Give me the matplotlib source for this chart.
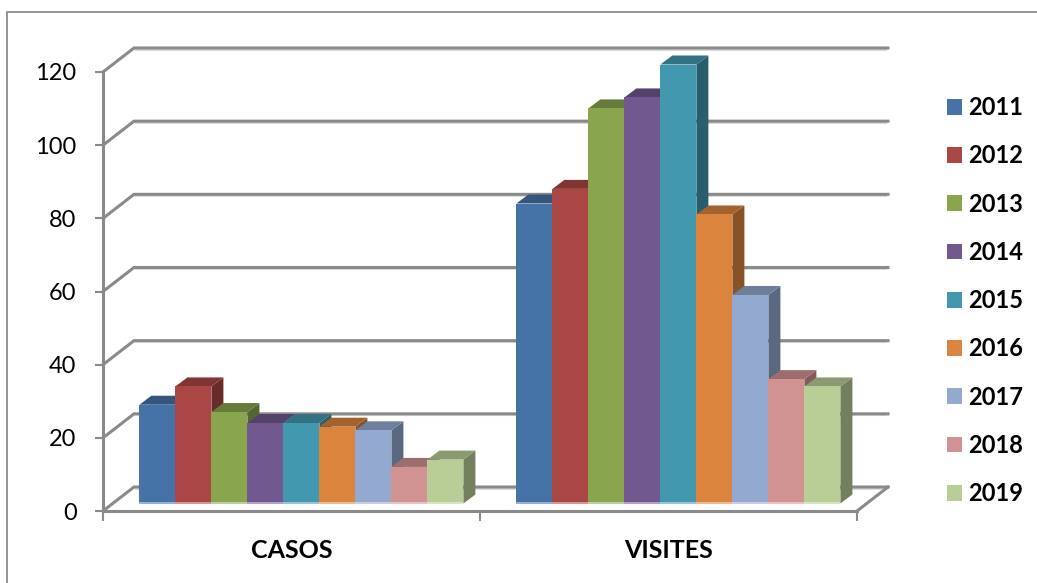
import matplotlib
matplotlib.use("Agg")
import matplotlib.pyplot as plt
from matplotlib.colors import to_rgb
from matplotlib.patches import Patch, Polygon, Rectangle

plt.rcParams['font.family'] = ['Lato', 'DejaVu Sans']

categories = ['CASOS', 'VISITES']
years = ['2011', '2012', '2013', '2014', '2015', '2016', '2017', '2018', '2019']
casos = [27, 32, 25, 22, 22, 21, 20, 10, 12]
visites = [82, 86, 108, 111, 120, 79, 57, 34, 32]
colors = ['#4572A7', '#AA4643', '#89A54E', '#71588F', '#4198AF',
          '#DB843D', '#93A9CF', '#D19392', '#B9CD96']
y_ticks = [0, 20, 40, 60, 80, 100, 120]

W, H = 1037, 583
GREY = '#8A8A8A'


def shade(color, f):
    return tuple(c * f for c in to_rgb(color))


fig = plt.figure(figsize=(W / 100, H / 100), dpi=100)
fig.add_artist(Rectangle((7 / W, -0.1), 1.1, 1 + 0.1 - 12 / H, fill=False,
                         edgecolor='#8C8C8C', linewidth=1.3,
                         transform=fig.transFigure))

# axis box: 103..857 px across, 511..72 px down
ax = fig.add_axes([103 / W, 1 - 511 / H, 754 / W, 439 / H])
ax.set_xlim(0, 2)
ax.set_ylim(0, 120)
ax.patch.set_alpha(0)

px_x = 2 / 754
px_y = 120 / 439

# back wall and floor offset
back_x = 31 * px_x
back_y = 24 * px_y
for v in y_ticks:
    ax.plot([2 + back_x - 2 * px_x, back_x + 2 * px_x], [v + back_y - 1.5 * px_y] * 2,
            color='#DCDCDC', lw=1.5, clip_on=False, zorder=1)
    ax.plot([0, back_x, 2 + back_x], [v, v + back_y, v + back_y],
            color=GREY, lw=2.2, clip_on=False, zorder=1.1, solid_joinstyle='miter')
ax.plot([2, 2 + back_x], [0, back_y], color=GREY, lw=2.2, clip_on=False, zorder=1.1)

# bars
bar_w = 36 * px_x
depth_x = 12 * px_x
depth_y = 9 * px_y
shift_x = 36.4 * px_x
shift_y = 7.5 * px_y

for c, values in enumerate([casos, visites]):
    for i, v in enumerate(values):
        x0 = c + shift_x + i * bar_w
        x1 = x0 + bar_w
        top = shift_y + v
        col = colors[i]
        ax.add_patch(Polygon([(x1, shift_y), (x1 + depth_x, shift_y + depth_y),
                              (x1 + depth_x, top + depth_y), (x1, top)],
                             facecolor=shade(col, 0.62), edgecolor='none',
                             clip_on=False, zorder=2 + i * 0.1))
        ax.add_patch(Polygon([(x0, top), (x0 + depth_x, top + depth_y),
                              (x1 + depth_x, top + depth_y), (x1, top)],
                             facecolor=shade(col, 0.75), edgecolor='none',
                             clip_on=False, zorder=2 + i * 0.1))
        ax.bar(x0, v, width=bar_w, bottom=shift_y, align='edge', color=col,
               zorder=2.05 + i * 0.1, clip_on=False)
        # pale strip where the bar meets the floor
        ax.bar(x0, 1.5 * px_y, width=bar_w, bottom=shift_y, align='edge',
               color='white', alpha=0.45, zorder=2.06 + i * 0.1, clip_on=False)

for s in ['top', 'right']:
    ax.spines[s].set_visible(False)
for s in ['left', 'bottom']:
    ax.spines[s].set_color(GREY)
    ax.spines[s].set_linewidth(2.2)
ax.spines['left'].set_zorder(1.2)
ax.spines['bottom'].set_zorder(1.2)

ax.set_yticks(y_ticks)
ax.tick_params(axis='y', length=6, width=1.5, color=GREY, labelsize=17, pad=13)
ax.set_xticks([0, 1, 2])
ax.set_xticklabels([])
ax.set_xticks([0.5, 1.5], minor=True)
ax.set_xticklabels(categories, minor=True, fontsize=18, fontweight='bold')
ax.tick_params(axis='x', which='major', length=7, width=1.5, color=GREY)
ax.tick_params(axis='x', which='minor', length=0, pad=20)

handles = [Patch(facecolor=col, edgecolor='none') for col in colors]
leg = fig.legend(handles, years, loc='upper left',
                 bbox_to_anchor=(947 / W, 1 - 96 / H), frameon=False,
                 prop={'family': 'Lato', 'weight': 'bold', 'size': 17},
                 handlelength=0.64, handleheight=0.64, handletextpad=0.27,
                 labelspacing=1.07, borderpad=0, borderaxespad=0)

fig.savefig('out.png', dpi=100)
